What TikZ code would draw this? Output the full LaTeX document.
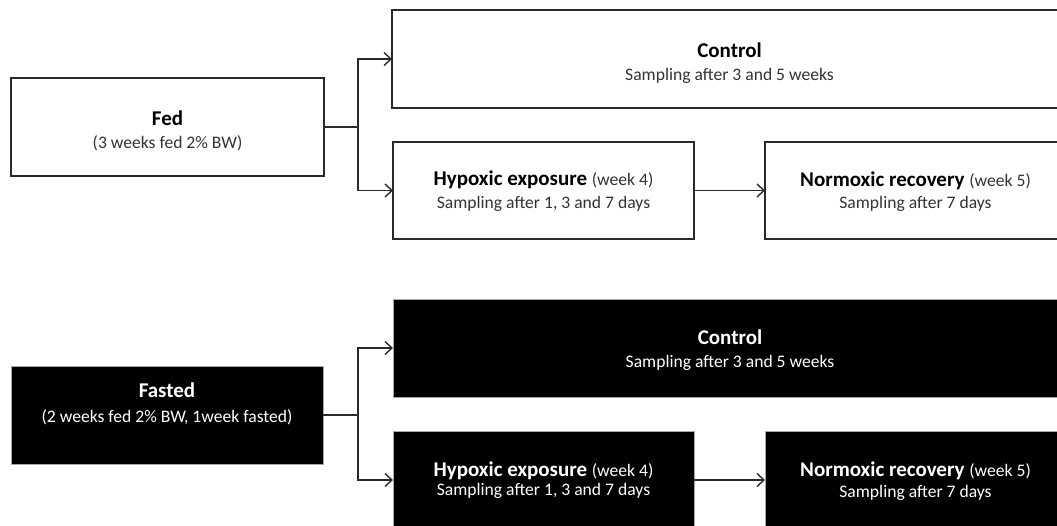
\documentclass[tikz,border=0pt]{standalone}
\usepackage{fontspec}
\setmainfont{Carlito}
\usetikzlibrary{arrows.meta}
\definecolor{linegray}{HTML}{2A2A2A}
\definecolor{subgray}{HTML}{333333}
\tikzset{
  whitebox/.style={draw=linegray, line width=1.4pt, fill=white, rectangle, outer sep=0pt, inner sep=0pt},
  blackbox/.style={draw=gray!70, line width=0.8pt, fill=black, rectangle, outer sep=0pt, inner sep=0pt},
  titletext/.style={anchor=base, inner sep=0pt, font=\fontsize{21}{23}\selectfont\bfseries},
  subtext/.style={anchor=base, inner sep=0pt, font=\fontsize{17.6}{21}\selectfont},
  conn/.style={draw=linegray, line width=1.4pt},
  arr/.style={conn, -{Straight Barb[length=7pt,width=13pt,line width=1.4pt]}},
}
\newcommand{\wk}{\fontsize{17.6}{21}\selectfont\mdseries}
\begin{document}
\begin{tikzpicture}[x=1pt,y=-1pt]
\useasboundingbox (0,0) rectangle (1057,525);
\clip (0,0) rectangle (1057,525);
% ---------- top (fed) ----------
\node[whitebox, minimum width=313pt, minimum height=98pt] (fed) at (167.5,127) {};
\node[whitebox, minimum width=675pt, minimum height=98pt] (ctrlA) at (729.5,59) {};
\node[whitebox, minimum width=301pt, minimum height=97pt] (hypA) at (543.5,190.5) {};
\node[whitebox, minimum width=301pt, minimum height=97pt] (normA) at (915.5,190.5) {};
\coordinate (forkA) at (358,127);
\draw[conn] (fed.east) -- (forkA);
\draw[arr] (forkA) |- (ctrlA.west);
\draw[arr] (forkA) |- (hypA.west);
\draw[arr] (hypA.east) -- (normA.west);

\node[titletext, text=black] (fedT) at ([yshift=2pt]fed.center) {Fed};
\node[subtext, text=subgray] (fedS) at ([yshift=-21pt]fed.center) {(3 weeks fed 2\% BW)};
\node[titletext, text=black] (ctrlAT) at ([yshift=2pt]ctrlA.center) {Control};
\node[subtext, text=subgray] (ctrlAS) at ([yshift=-21pt]ctrlA.center) {Sampling after 3 and 5 weeks};
\node[titletext, text=black] (hypAT) at ([yshift=5pt]hypA.center) {Hypoxic exposure {\wk\color{subgray}(week 4)}};
\node[subtext, text=subgray] (hypAS) at ([yshift=-18pt]hypA.center) {Sampling after 1, 3 and 7 days};
\node[titletext, text=black] (normAT) at ([yshift=4pt]normA.center) {Normoxic recovery {\wk\color{subgray}(week 5)}};
\node[subtext, text=subgray] (normAS) at ([yshift=-18pt]normA.center) {Sampling after 7 days};

% ---------- bottom (fasted) ----------
\node[blackbox, minimum width=312pt, minimum height=98pt] (fast) at (167,415) {};
\node[blackbox, minimum width=674pt, minimum height=98pt] (ctrlB) at (730,348) {};
\node[blackbox, minimum width=301pt, minimum height=98pt] (hypB) at (543.5,480) {};
\node[blackbox, minimum width=301pt, minimum height=98pt] (normB) at (915.5,480) {};
\coordinate (forkB) at (358,415);
\draw[conn] (fast.east) -- (forkB);
\draw[arr] (forkB) |- (ctrlB.west);
\draw[arr] (forkB) |- (hypB.west);
\draw[arr] (hypB.east) -- (normB.west);

\node[titletext, text=white] (fastT) at ([yshift=18pt]fast.center) {Fasted};
\node[subtext, text=white] (fastS) at ([yshift=-7pt]fast.center) {(2 weeks fed 2\% BW, 1week fasted)};
\node[titletext, text=white] (ctrlBT) at ([yshift=4pt]ctrlB.center) {Control};
\node[subtext, text=white] (ctrlBS) at ([yshift=-19pt]ctrlB.center) {Sampling after 3 and 5 weeks};
\node[titletext, text=white] (hypBT) at ([yshift=4pt]hypB.center) {Hypoxic exposure {\wk(week 4)}};
\node[subtext, text=white] (hypBS) at ([yshift=-15pt]hypB.center) {Sampling after 1, 3 and 7 days};
\node[titletext, text=white] (normBT) at ([yshift=4pt]normB.center) {Normoxic recovery {\wk(week 5)}};
\node[subtext, text=white] (normBS) at ([yshift=-17pt]normB.center) {Sampling after 7 days};
\end{tikzpicture}
\end{document}
